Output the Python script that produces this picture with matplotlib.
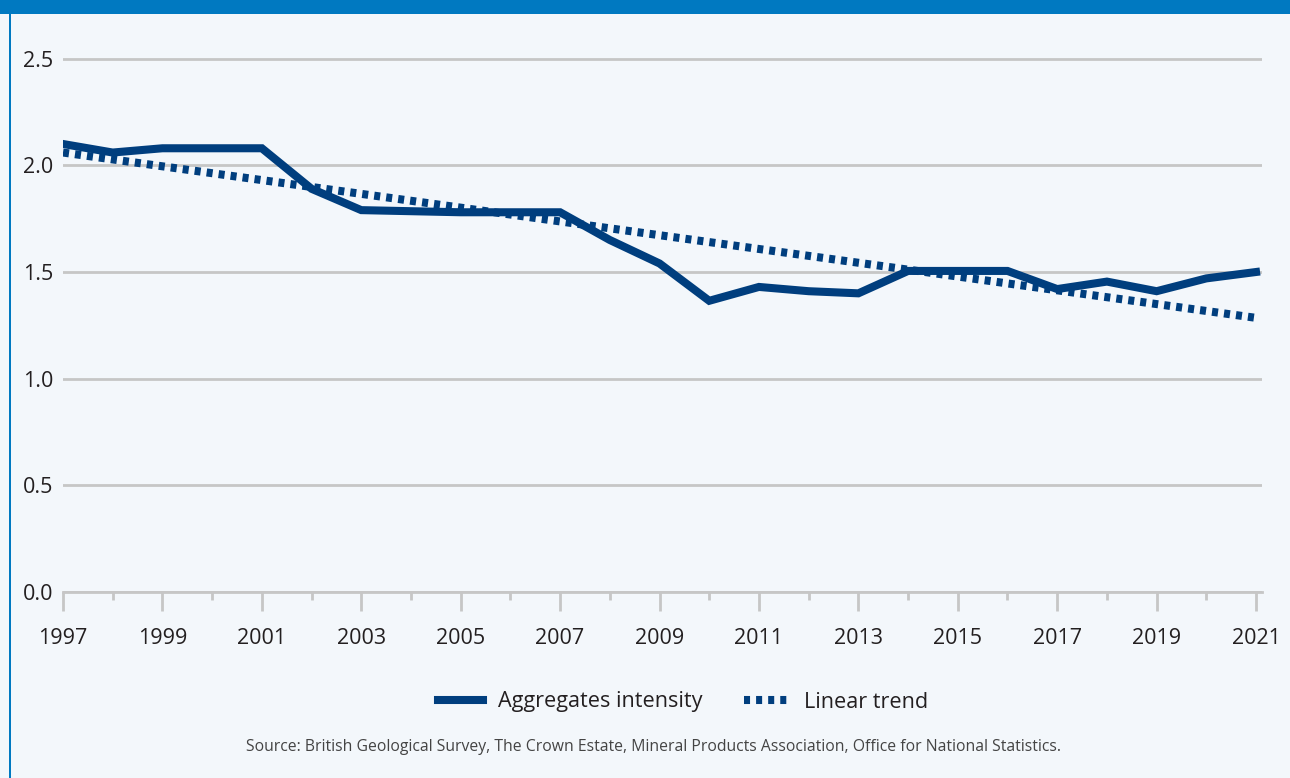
import matplotlib.pyplot as plt
from matplotlib.patches import Rectangle
from matplotlib.lines import Line2D
from matplotlib.ticker import MultipleLocator

plt.rcParams['font.family'] = ['Open Sans', 'DejaVu Sans']

# data
years = list(range(1997, 2022))
intensity = [2.10, 2.06, 2.08, 2.08, 2.08, 1.89, 1.79, 1.785, 1.78, 1.78,
             1.78, 1.65, 1.54, 1.365, 1.43, 1.41, 1.40, 1.505, 1.505, 1.505,
             1.42, 1.455, 1.41, 1.47, 1.50]
trend_years = [1997, 2021]
trend_values = [2.06, 1.285]
x_ticks = list(range(1997, 2022, 2))
y_ticks = [0.0, 0.5, 1.0, 1.5, 2.0, 2.5]
source = ('Source: British Geological Survey, The Crown Estate, '
          'Mineral Products Association, Office for National Statistics.')

navy = '#003e7e'
grey = '#c6c6c6'
bg = '#f3f7fb'
txt = '#231f20'

fig = plt.figure(figsize=(12.9, 7.78), dpi=100, facecolor=bg)

# blue header band and left border of the panel
fig.patches.append(Rectangle((0, 1 - 14 / 778), 1, 14 / 778, transform=fig.transFigure,
                             facecolor='#0079c1', edgecolor='none'))
fig.patches.append(Rectangle((9 / 1290, 0), 1.5 / 1290, 1 - 14 / 778, transform=fig.transFigure,
                             facecolor='#0079c1', edgecolor='none'))

ax = fig.add_axes([63 / 1290, 1 - 592 / 778, (1262 - 63) / 1290, (592 - 48) / 778])
ax.set_facecolor(bg)

ax.plot(trend_years, trend_values, color=navy, lw=5.8, linestyle=(0, (0.75, 0.75)),
        dash_capstyle='butt', zorder=3)
ax.plot(years, intensity, color=navy, lw=5.8, solid_joinstyle='miter', zorder=4)

ax.set_xlim(1997, 2021.12)
ax.set_ylim(0, 2.55)
ax.set_yticks(y_ticks)
ax.set_yticklabels([f'{v:.1f}' for v in y_ticks])
ax.set_xticks(x_ticks)
ax.xaxis.set_minor_locator(MultipleLocator(1))
ax.grid(axis='y', color=grey, lw=2)
ax.set_axisbelow(True)

for s in ['top', 'right', 'left']:
    ax.spines[s].set_visible(False)
ax.spines['bottom'].set_color(grey)
ax.spines['bottom'].set_linewidth(2)

ax.tick_params(axis='y', length=0, labelsize=15.5, labelcolor=txt, pad=7)
ax.tick_params(axis='x', which='major', length=14, width=2, color=grey,
               labelsize=15.5, labelcolor=txt, pad=12)
ax.tick_params(axis='x', which='minor', length=6, width=2, color=grey)

handles = [Line2D([], [], color=navy, lw=5.8),
           Line2D([], [], color=navy, lw=5.8, linestyle=(0, (0.75, 0.75)), dash_capstyle='butt')]
fig.legend(handles, ['Aggregates intensity', 'Linear trend'], loc='center',
           bbox_to_anchor=(683 / 1290, 1 - 702 / 778), ncol=2, frameon=False,
           fontsize=15.6, handlelength=2.1, columnspacing=1.95, handletextpad=0.65,
           labelcolor=txt)

fig.text(654 / 1290, 1 - 747 / 778, source, ha='center', va='center', fontsize=11.3, color='#444444')

fig.savefig('out.png', dpi=100, facecolor=bg)
